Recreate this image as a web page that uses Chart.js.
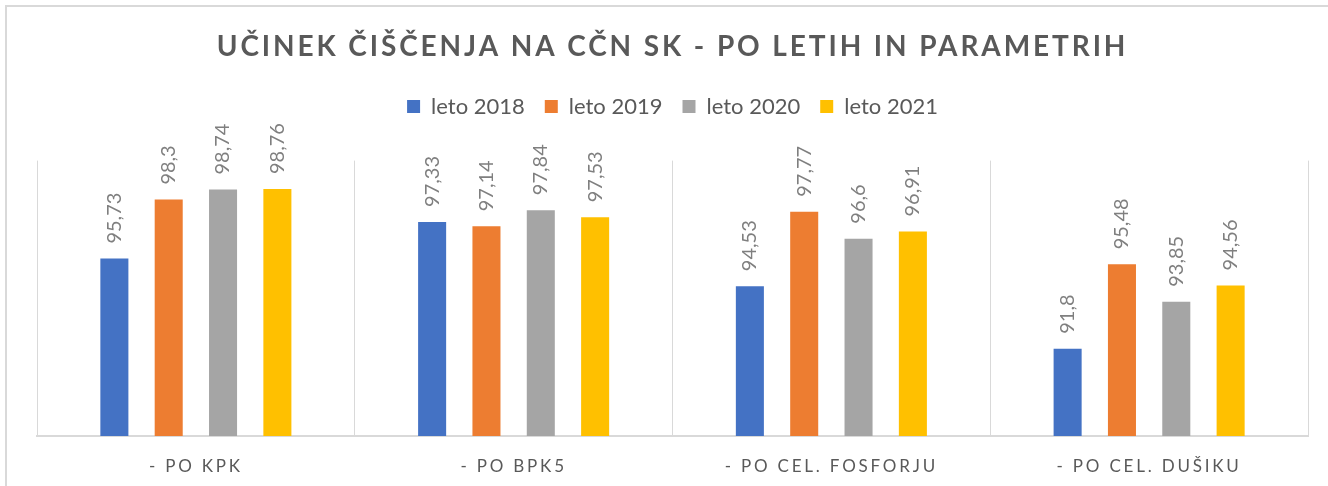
<!DOCTYPE html>
<html><head><meta charset="utf-8">
<script src="https://cdn.jsdelivr.net/npm/chart.js@4"></script>
<style>
html,body{margin:0;padding:0;background:#fff;overflow:hidden;width:1328px;height:486px}
#frame{position:absolute;left:5px;top:5px;width:1400px;height:600px;border-left:2px solid #d9d9d9;border-top:2px solid #d9d9d9;box-sizing:border-box}
#wrap{position:absolute;left:0;top:0;width:1328px;height:486px}
</style></head><body>
<div id="frame"></div>
<div id="wrap"><canvas id="c" width="1328" height="486"></canvas></div>
<script>
const categories = ['- PO KPK', '- PO BPK5', '- PO CEL. FOSFORJU', '- PO CEL. DUŠIKU'];
const seriesNames = ['leto 2018', 'leto 2019', 'leto 2020', 'leto 2021'];
const values2018 = [95.73, 97.33, 94.53, 91.8];
const values2019 = [98.3, 97.14, 97.77, 95.48];
const values2020 = [98.74, 97.84, 96.6, 93.85];
const values2021 = [98.76, 97.53, 96.91, 94.56];
const seriesColors = ['#4472C4', '#ED7D31', '#A5A5A5', '#FFC000'];
const titleText = 'UČINEK ČIŠČENJA NA CČN SK - PO LETIH IN PARAMETRIH';
const yMin = 88, yMax = 100;

const seriesValues = [values2018, values2019, values2020, values2021];
const LEGEND_EXTRA = 33;

function wrapSpacing(obj, fn, sp) {
  if (!obj || obj['_sp_' + fn]) return;
  const orig = obj[fn];
  obj[fn] = function (...args) {
    const c = this.ctx;
    const prev = c.letterSpacing;
    c.letterSpacing = sp;
    try { return orig.apply(this, args); } finally { c.letterSpacing = prev; }
  };
  obj['_sp_' + fn] = true;
}

const stylePlugin = {
  id: 'styleTweaks',
  beforeLayout(chart) {
    const lg = chart.legend;
    if (lg && !lg._extra) {
      const f = lg.fit;
      lg.fit = function () { f.call(this); this.height += LEGEND_EXTRA; };
      lg._extra = true;
    }
  },
  beforeDraw(chart) {
    wrapSpacing(chart.titleBlock, 'draw', '2.9px');
    wrapSpacing(chart.scales.x, 'drawLabels', '2.8px');
  }
};

const labelPlugin = {
  id: 'barLabels',
  afterDatasetsDraw(chart) {
    const ctx = chart.ctx;
    ctx.save();
    ctx.font = '20px Lato';
    ctx.fillStyle = '#7f7f7f';
    chart.data.datasets.forEach((ds, i) => {
      const meta = chart.getDatasetMeta(i);
      meta.data.forEach((bar, j) => {
        const txt = String(ds.data[j]).replace('.', ',');
        ctx.save();
        ctx.translate(bar.x, bar.y - 15);
        ctx.rotate(-Math.PI / 2);
        ctx.textAlign = 'left';
        ctx.textBaseline = 'middle';
        ctx.fillText(txt, 0, 0);
        ctx.restore();
      });
    });
    ctx.restore();
  }
};

new Chart(document.getElementById('c'), {
  type: 'bar',
  data: {
    labels: categories,
    datasets: seriesNames.map((n, i) => ({
      label: n,
      data: seriesValues[i],
      backgroundColor: seriesColors[i],
      borderWidth: 0,
      categoryPercentage: 0.684,
      barPercentage: 0.516
    }))
  },
  options: {
    responsive: false,
    devicePixelRatio: 1,
    animation: false,
    layout: { padding: { top: 30, left: 37, right: 20, bottom: 0 } },
    plugins: {
      title: {
        display: true,
        text: titleText,
        color: '#595959',
        font: { family: 'Lato', size: 28, weight: 'bold', lineHeight: 1.2 },
        padding: { top: 0, bottom: 12 }
      },
      legend: {
        display: true,
        position: 'top',
        labels: {
          color: '#595959',
          font: { family: 'Lato', size: 22 },
          boxWidth: 13,
          boxHeight: 13,
          padding: 20
        }
      },
      tooltip: { enabled: false }
    },
    scales: {
      x: {
        grid: { display: true, color: '#d9d9d9', lineWidth: 1, drawTicks: false, offset: true },
        border: { display: true, color: '#d9d9d9', width: 2 },
        ticks: { color: '#595959', font: { family: 'Lato', size: 17 }, padding: 20, maxRotation: 0, autoSkip: false },
        afterFit(scale) { scale.height = 50; }
      },
      y: { display: false, min: yMin, max: yMax }
    }
  },
  plugins: [stylePlugin, labelPlugin]
});
</script>
</body></html>
